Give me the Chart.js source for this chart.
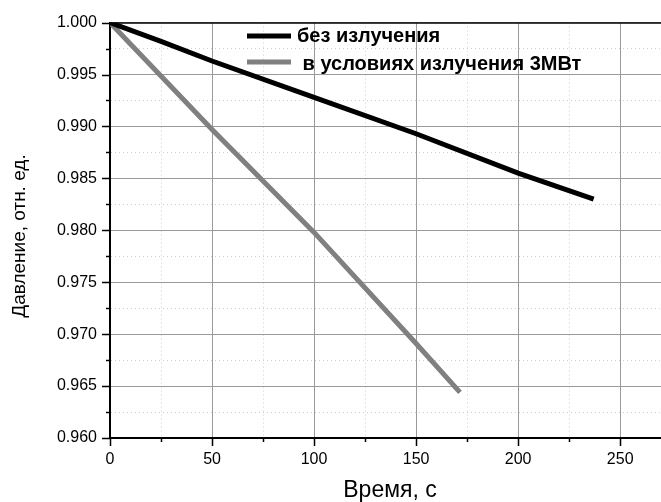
<!DOCTYPE html>
<html>
<head>
<meta charset="utf-8">
<script src="https://cdn.jsdelivr.net/npm/chart.js@4.4.0/dist/chart.umd.min.js"></script>
<style>
html,body{margin:0;padding:0;background:#fff}
#wrap{width:661px;height:502px}
</style>
</head>
<body>
<div id="wrap"><canvas id="pressureChart"></canvas></div>
<script>
// время, с / давление, отн. ед.
let timeNoRad=[0,25,50,100,150,200,237]
let pressNoRad=[1.0,0.9982,0.9963,0.9928,0.9893,0.9855,0.9830]
let timeRad=[0,50,100,150,171.5]
let pressRad=[1.0,0.9897,0.9798,0.9691,0.9644]
let seriesNames=['без излучения',' в условиях излучения 3МВт']
let seriesColors=['#000000','#808080']
let xTickLabels=[0,50,100,150,200,250]
let yTickLabels=[0.960,0.965,0.970,0.975,0.980,0.985,0.990,0.995,1.000]
let xTitle='Время, с'
let yTitle='Давление, отн. ед.'

const fontName='"Liberation Sans", Arial, sans-serif'

function isMajorX(v){return xTickLabels.some(t=>Math.abs(t-v)<1e-6)}
function isMajorY(v){return yTickLabels.some(t=>Math.abs(t-v)<1e-7)}

function toPoints(xs,ys){
    return xs.map((x,i)=>({x:x,y:ys[i]}))
}

// labelled x ticks plus the halfway ones between them
function xTicksWithMinor(){
    let out=[]
    xTickLabels.forEach((v,i)=>{
        out.push({value:v})
        if(i<xTickLabels.length-1) out.push({value:(v+xTickLabels[i+1])/2})
    })
    return out
}

// top frame line of the plot
const topLine={
    id:'topLine',
    afterDraw(chart){
        const c=chart.ctx, a=chart.chartArea
        c.save()
        c.strokeStyle='#000'
        c.lineWidth=1.5
        c.beginPath()
        c.moveTo(a.left,a.top+0.5)
        c.lineTo(a.right,a.top+0.5)
        c.stroke()
        c.restore()
    }
}

// outward tick marks, long at labelled values, short between
const tickMarks={
    id:'tickMarks',
    afterDraw(chart){
        const c=chart.ctx, a=chart.chartArea
        const xs=chart.scales.x, ys=chart.scales.y
        c.save()
        c.strokeStyle='#000'
        c.lineWidth=1.5
        c.beginPath()
        xs.ticks.forEach(t=>{
            const px=Math.round(xs.getPixelForValue(t.value))+0.5
            const len=isMajorX(t.value)?8:4
            c.moveTo(px,a.bottom)
            c.lineTo(px,a.bottom+len)
        })
        ys.ticks.forEach(t=>{
            const py=Math.round(ys.getPixelForValue(t.value))+0.5
            const len=isMajorY(t.value)?8:4
            c.moveTo(a.left,py)
            c.lineTo(a.left-len,py)
        })
        c.stroke()
        c.restore()
    }
}

// axis titles
const axisTitles={
    id:'axisTitles',
    afterDraw(chart){
        const c=chart.ctx
        c.save()
        c.fillStyle='#000'
        c.textAlign='center'
        c.textBaseline='alphabetic'
        c.font='23px '+fontName
        c.fillText(xTitle,390,497)
        c.translate(25,236)
        c.rotate(-Math.PI/2)
        c.font='19px '+fontName
        c.fillText(yTitle,0,0)
        c.restore()
    }
}

// legend drawn inside the plot
const innerLegend={
    id:'innerLegend',
    afterDraw(chart){
        const c=chart.ctx
        c.save()
        c.font='bold 20px '+fontName
        c.textBaseline='alphabetic'
        c.textAlign='left'
        chart.data.datasets.forEach((ds,i)=>{
            const lineY=36+i*26
            c.strokeStyle=ds.borderColor
            c.lineWidth=5
            c.beginPath()
            c.moveTo(247,lineY)
            c.lineTo(291,lineY)
            c.stroke()
            c.fillStyle='#000'
            c.fillText(ds.label,297,42+i*28)
        })
        c.restore()
    }
}

let ctx=document.getElementById('pressureChart').getContext('2d')
let myChart=new Chart(ctx,{
    type:'line',
    data:{
        datasets:[{
            label:seriesNames[0],
            data:toPoints(timeNoRad,pressNoRad),
            borderColor:seriesColors[0],
            borderWidth:5,
            pointRadius:0,
            borderCapStyle:'butt',
            clip:0
        },{
            label:seriesNames[1],
            data:toPoints(timeRad,pressRad),
            borderColor:seriesColors[1],
            borderWidth:5,
            pointRadius:0,
            borderCapStyle:'butt',
            clip:0
        }]
    },
    options:{
        responsive:true,
        maintainAspectRatio:false,
        animation:false,
        devicePixelRatio:1,
        layout:{padding:{top:21,left:0,right:0,bottom:0}},
        plugins:{legend:{display:false},tooltip:{enabled:false}},
        scales:{
            x:{
                type:'linear',
                min:0,
                max:270,
                afterBuildTicks(scale){scale.ticks=xTicksWithMinor()},
                afterFit(scale){scale.height=64},
                ticks:{
                    autoSkip:false,
                    maxRotation:0,
                    padding:12,
                    color:'#000',
                    font:{family:fontName,size:16},
                    callback:v=>isMajorX(v)?String(v):''
                },
                grid:{
                    drawTicks:false,
                    lineWidth:1,
                    color:c=>{
                        if(!c.tick) return 'transparent'
                        return isMajorX(c.tick.value)?'#9a9a9a':'#cfcfcf'
                    }
                },
                border:{
                    display:true,
                    color:'#000',
                    width:2,
                    dash:c=>(c.tick&&!isMajorX(c.tick.value))?[1,3]:[]
                }
            },
            y:{
                type:'linear',
                min:0.96,
                max:1.0,
                afterFit(scale){scale.width=110},
                ticks:{
                    stepSize:0.0025,
                    autoSkip:false,
                    padding:13,
                    color:'#000',
                    font:{family:fontName,size:16},
                    callback:v=>isMajorY(v)?v.toFixed(3):''
                },
                grid:{
                    drawTicks:false,
                    lineWidth:1,
                    color:c=>{
                        if(!c.tick) return 'transparent'
                        return isMajorY(c.tick.value)?'#9a9a9a':'#cfcfcf'
                    }
                },
                border:{
                    display:true,
                    color:'#000',
                    width:2,
                    dash:c=>(c.tick&&!isMajorY(c.tick.value))?[1,3]:[]
                }
            }
        }
    },
    plugins:[tickMarks,topLine,axisTitles,innerLegend]
})
</script>
</body>
</html>
